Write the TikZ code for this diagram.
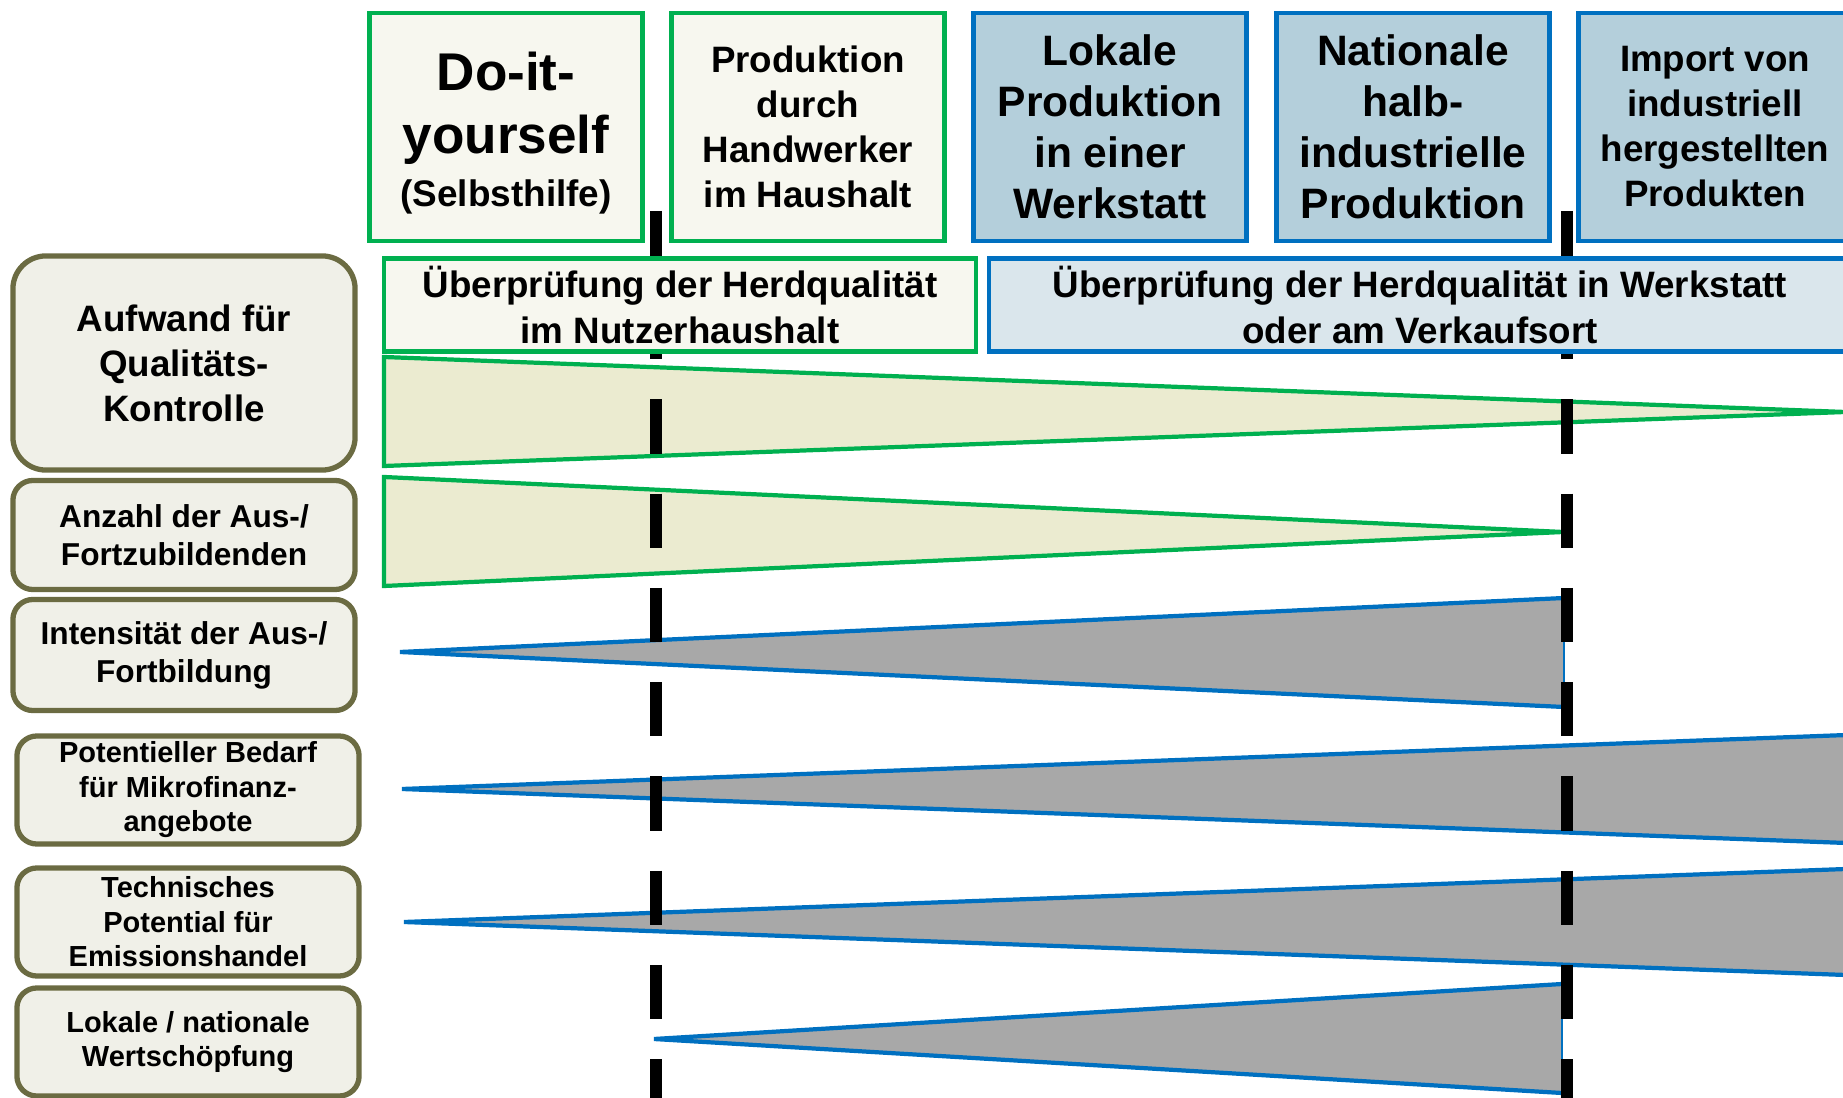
\documentclass[tikz,border=0pt]{standalone}
\usepackage{fontspec}
\setmainfont{Liberation Sans}
\definecolor{grn}{HTML}{00B050}
\definecolor{blu}{HTML}{0070C0}
\definecolor{olv}{HTML}{6B6B42}
\definecolor{cream}{HTML}{F7F7EF}
\definecolor{lblue}{HTML}{B4CFDB}
\definecolor{pblue}{HTML}{DAE6EC}
\definecolor{lgrey}{HTML}{F0F0E8}
\definecolor{khaki}{HTML}{EBEBD0}
\definecolor{tgrey}{HTML}{A8A8A8}

\begin{document}
\begin{tikzpicture}[x=0.01cm,y=-0.01cm,
	every node/.style={align=center,inner sep=0pt},
	fbig/.style={font=\fontsize{15.1}{17.9}\selectfont\bfseries},
	fmid/.style={font=\fontsize{12.1}{14.5}\selectfont\bfseries},
	fnorm/.style={font=\fontsize{10.45}{12.8}\selectfont\bfseries},
	fsmall/.style={font=\fontsize{9}{10.8}\selectfont\bfseries},
	ftiny/.style={font=\fontsize{8.25}{9.8}\selectfont\bfseries},
	top/.style={line width=1.2pt,minimum width=2.73cm,minimum height=2.28cm},
	gbox/.style={top,draw=grn,fill=cream},
	bbox/.style={top,draw=blu,fill=lblue},
	pruef/.style={line width=1.2pt,minimum height=0.93cm,fnorm},
	crit/.style={draw=olv,fill=lgrey,line width=1.5pt,rounded corners=0.2cm,minimum width=3.42cm},
	tri/.style={line width=1.2pt,line join=miter}]
	\useasboundingbox (0,0) rectangle (1843,1098);
	\clip (0,0) rectangle (1843,1098);
	% green wedges
	\filldraw[tri,draw=grn,fill=khaki] (384,357)--(1845,412)--(384,466)--cycle;
	\filldraw[tri,draw=grn,fill=khaki] (384,477)--(1563,532)--(384,586)--cycle;
	% grey wedges
	\fill[tgrey] (400,652)--(1564,598)--(1564,707)--cycle;
	\draw[tri,blu] (1564,598)--(400,652)--(1564,707);
	\draw[blu,thin] (1564,598)--(1564,707);
	\filldraw[tri,draw=blu,fill=tgrey] (1900,733)--(402,789)--(1900,845);
	\filldraw[tri,draw=blu,fill=tgrey] (1900,867)--(404,922)--(1900,977);
	\fill[tgrey] (654,1039)--(1562,984)--(1562,1093)--cycle;
	\draw[tri,blu] (1562,984)--(654,1039)--(1562,1093);
	\draw[blu,thin] (1562,984)--(1562,1093);
	% borders
	\foreach \x in {656,1567}
		\draw[line width=3.4pt,dash pattern=on 15.4pt off 11.4pt] (\x,211)--(\x,1110);
	% columns
	\node[gbox,fbig] (doit) at (506,127) {\rule{0pt}{14.5pt}Do-it-\\yourself\\[-3pt]{\fontsize{10.5}{12}\selectfont(Selbsthilfe)}};
	\node[gbox,fnorm] (handwerk) at (808,127) {Produktion\\durch\\Handwerker\\im Haushalt};
	\node[bbox,fmid] (werkstatt) at (1110,127) {Lokale\\Produktion\\in einer\\Werkstatt};
	\node[bbox,fmid] (halbind) at (1413,127) {Nationale\\halb-\\industrielle\\Produktion};
	\node[bbox,fnorm] (import) at (1715,127) {Import von\\industriell\\hergestellten\\Produkten};
	\node[pruef,draw=grn,fill=cream,minimum width=5.92cm] (pruefhh) at (680,305) {Überprüfung der Herdqualität\\im Nutzerhaushalt};
	\node[pruef,draw=blu,fill=pblue,minimum width=8.62cm] (pruefws) at (1420,305) {Überprüfung der Herdqualität in Werkstatt\\oder am Verkaufsort};
	% criteria
	\node[crit,fnorm,rounded corners=0.33cm,minimum height=2.14cm] (aufwand) at (184,363) {Aufwand für\\Qualitäts-\\Kontrolle};
	\node[crit,fsmall,minimum height=1.09cm] (anzahl) at (184,535) {Anzahl der Aus-/\\Fortzubildenden};
	\node[crit,fsmall,minimum height=1.11cm] (intens) at (184,655) {Intensität der Aus-/\\Fortbildung};
	\node[crit,ftiny,minimum height=1.08cm] (mikro) at (188,790) {Potentieller Bedarf\\für Mikrofinanz-\\angebote};
	\node[crit,ftiny,minimum height=1.08cm] (emiss) at (188,922) {Technisches\\Potential für\\Emissionshandel};
	\node[crit,ftiny,minimum height=1.08cm] (wert) at (188,1042) {Lokale / nationale\\Wertschöpfung};
\end{tikzpicture}
\end{document}
